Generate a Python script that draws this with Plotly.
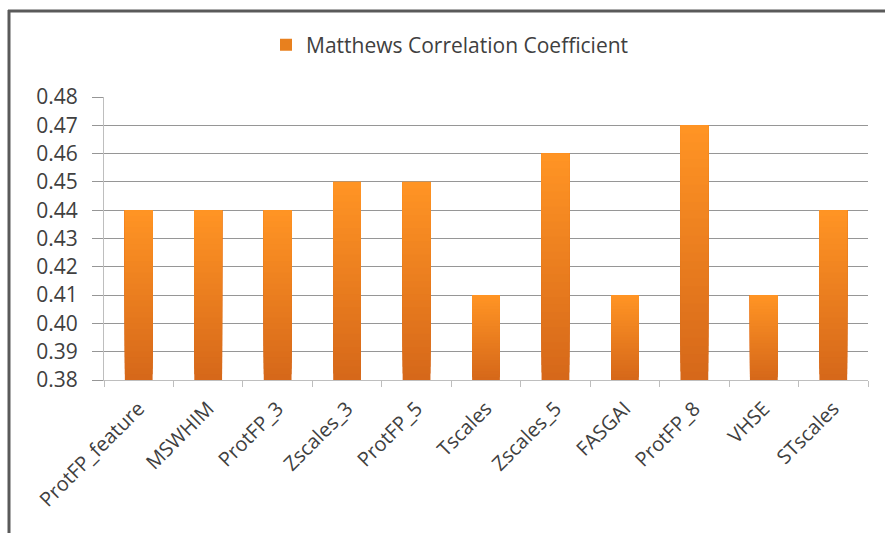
import plotly.graph_objects as go

# Descriptor sets and their Matthews correlation coefficients
categories = ["ProtFP_feature", "MSWHIM", "ProtFP_3", "Zscales_3", "ProtFP_5",
              "Tscales", "Zscales_5", "FASGAI", "ProtFP_8", "VHSE", "STscales"]
mcc = [0.44, 0.44, 0.44, 0.45, 0.45, 0.41, 0.46, 0.41, 0.47, 0.41, 0.44]
series_name = "Matthews Correlation Coefficient"
y_ticks = [0.38, 0.39, 0.40, 0.41, 0.42, 0.43, 0.44, 0.45, 0.46, 0.47, 0.48]

W, H = 885, 533
L, R, T, B = 104, 17, 97, 153
Y0, Y1 = 0.38, 0.48

TOP_RGB = (255, 148, 36)
BOT_RGB = (214, 104, 26)
N_SLICES = 30


def mix(t):
    r, g, b = (round(BOT_RGB[i] + (TOP_RGB[i] - BOT_RGB[i]) * t) for i in range(3))
    return f"rgb({r},{g},{b})"


fig = go.Figure()

# vertical gradient: overlapping bars, each starting a little higher and
# running up to the value, so the lighter tones end up on top
for k in range(N_SLICES):
    bases = [Y0 + (v - Y0) * k / N_SLICES for v in mcc]
    heights = [v - b for v, b in zip(mcc, bases)]
    fig.add_trace(go.Bar(
        x=categories, y=heights, base=bases,
        marker=dict(color=mix(k / (N_SLICES - 1)), line=dict(width=0)),
        showlegend=False, hoverinfo="skip", offsetgroup="mcc",
    ))

# legend entry
fig.add_trace(go.Bar(
    x=categories, y=[0] * len(categories), base=Y0, name=series_name,
    marker=dict(color="rgb(232,128,30)", line=dict(width=0)),
    showlegend=True, hoverinfo="skip", offsetgroup="mcc",
))

pw, ph = W - L - R, H - T - B
px = lambda x: (x - L) / pw
py = lambda y: 1 - (y - T) / ph

frame = "rgb(90,90,90)"
shapes = [
    dict(type="line", xref="paper", yref="paper", x0=px(9), x1=px(9),
         y0=py(10), y1=py(H), line=dict(color=frame, width=3)),
    dict(type="line", xref="paper", yref="paper", x0=px(8), x1=px(W),
         y0=py(11), y1=py(11), line=dict(color=frame, width=3)),
]

fig.update_layout(
    width=W, height=H,
    margin=dict(l=L, r=R, t=T, b=B),
    paper_bgcolor="white", plot_bgcolor="white",
    barmode="overlay", bargap=0.6,
    font=dict(family="Open Sans", color="rgb(64,64,64)"),
    showlegend=True,
    legend=dict(orientation="h", x=px(266), xanchor="left", y=py(45), yanchor="middle",
                font=dict(size=21, color="rgb(64,64,64)"), itemwidth=30,
                bgcolor="rgba(0,0,0,0)"),
    shapes=shapes,
)

fig.update_xaxes(
    type="category", tickangle=-45, tickfont=dict(size=20, color="rgb(64,64,64)"),
    showline=True, linecolor="rgb(190,190,190)", linewidth=1,
    ticks="outside", tickson="boundaries", ticklen=6, tickcolor="rgb(190,190,190)",
    ticklabelstandoff=8,
    showgrid=False, range=[-0.5, len(categories) - 0.5],
)
fig.update_yaxes(
    range=[Y0, Y1], tickvals=y_ticks, tickformat=".2f",
    tickfont=dict(size=21, color="rgb(64,64,64)"),
    showgrid=True, gridcolor="rgb(150,150,150)", gridwidth=1,
    showline=True, linecolor="rgb(190,190,190)", linewidth=1,
    ticks="outside", ticklen=11, tickcolor="rgb(150,150,150)",
    ticklabelstandoff=10,
    zeroline=False,
)

fig.write_html("out.html")
